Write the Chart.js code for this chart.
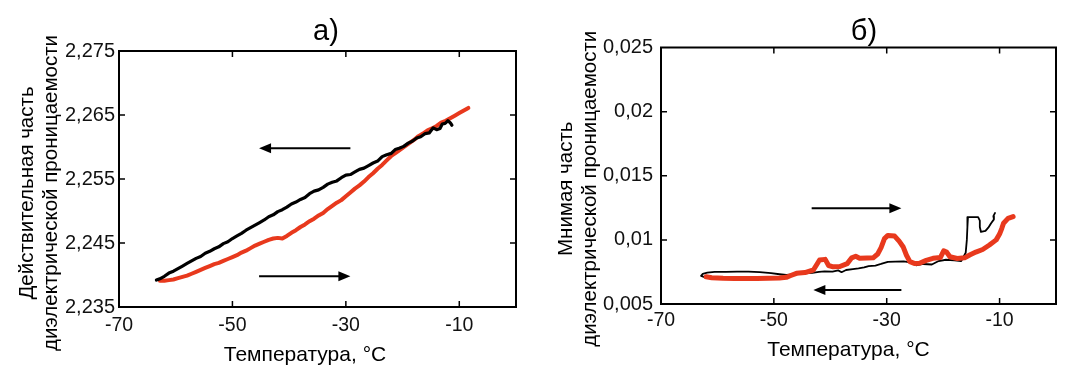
<!DOCTYPE html>
<html>
<head>
<meta charset="utf-8">
<script src="https://cdn.jsdelivr.net/npm/chart.js@4/dist/chart.umd.min.js"></script>
<style>
  body { margin: 0; background: #fff; width: 1075px; height: 378px; overflow: hidden; position: relative; }
  canvas { position: absolute; top: 0; }
  #chartA { left: 0; }
  #chartB { left: 537px; }
</style>
</head>
<body>
<canvas id="chartA" width="537" height="378"></canvas>
<canvas id="chartB" width="538" height="378"></canvas>
<script>
const FONT = "'Liberation Sans', Arial, sans-serif";

// shared x axis
const xTicks = [-70, -50, -30, -10];

// panel а) real part
const yTicksA = [2.235, 2.245, 2.255, 2.265, 2.275];
const coolTempA = [-11.3, -11.6, -12.0, -12.5, -13.0, -13.4, -14.0, -14.6, -15.3, -16.0, -16.8, -17.5, -18.3, -19.0, -19.8,
  -20.6, -21.3, -22.0, -22.8, -23.6, -24.4, -25.2, -26.0, -26.8, -27.6, -28.4, -29.2, -30.0, -30.8, -31.6, -32.4, -33.2,
  -34.0, -34.8, -35.6, -36.4, -37.2, -38.0, -38.8, -39.6, -40.4, -41.2, -42.0, -42.8, -43.6, -44.4, -45.2, -46.0, -46.8,
  -47.6, -48.4, -49.2, -50.0, -50.8, -51.6, -52.4, -53.2, -54.0, -54.8, -55.6, -56.4, -57.2, -58.0, -58.8, -59.6, -60.4,
  -61.2, -62.0, -62.8, -63.4];
const coolEpsA = [2.2634, 2.2638, 2.2641, 2.2637, 2.2636, 2.2629, 2.2627, 2.2630, 2.2622, 2.2621, 2.2616, 2.2614, 2.2609,
  2.2606, 2.2601, 2.2598, 2.2596, 2.2590, 2.2588, 2.2585, 2.2578, 2.2575, 2.2571, 2.2567, 2.2565, 2.2561, 2.2557, 2.2556,
  2.2552, 2.2547, 2.2545, 2.2542, 2.2537, 2.2533, 2.2531, 2.2527, 2.2521, 2.2518, 2.2514, 2.2511, 2.2506, 2.2502, 2.2499,
  2.2494, 2.2491, 2.2486, 2.2482, 2.2478, 2.2474, 2.2470, 2.2465, 2.2461, 2.2457, 2.2452, 2.2449, 2.2444, 2.2441, 2.2437,
  2.2434, 2.2429, 2.2426, 2.2422, 2.2418, 2.2414, 2.2410, 2.2406, 2.2403, 2.2398, 2.2394, 2.2392];
const heatTempA = [-62.8, -62.0, -61.2, -60.4, -59.6, -58.8, -58.0, -57.2, -56.4, -55.6, -54.8, -54.0, -53.2, -52.4, -51.6,
  -50.8, -50.0, -49.2, -48.4, -47.6, -46.8, -46.0, -45.2, -44.4, -43.6, -42.8, -42.0, -41.2, -40.4, -39.6, -38.8, -38.0,
  -37.2, -36.4, -35.6, -34.8, -34.0, -33.2, -32.4, -31.6, -30.8, -30.0, -29.2, -28.4, -27.6, -26.8, -26.0, -25.2, -24.4,
  -23.6, -22.8, -22.0, -21.2, -20.4, -19.6, -18.8, -18.0, -17.2, -16.4, -15.6, -14.8, -14.0, -13.2, -12.4, -11.6, -10.8,
  -10.0, -9.2, -8.4];
const heatEpsA = [2.2391, 2.2391, 2.2392, 2.2393, 2.2395, 2.2397, 2.2399, 2.2402, 2.2405, 2.2408, 2.2411, 2.2414, 2.2417,
  2.2419, 2.2422, 2.2425, 2.2428, 2.2431, 2.2435, 2.2438, 2.2442, 2.2446, 2.2449, 2.2452, 2.2455, 2.2457, 2.2458, 2.2457,
  2.2461, 2.2466, 2.2470, 2.2475, 2.2479, 2.2484, 2.2488, 2.2493, 2.2497, 2.2503, 2.2508, 2.2513, 2.2517, 2.2523, 2.2529,
  2.2535, 2.2540, 2.2546, 2.2553, 2.2559, 2.2566, 2.2572, 2.2579, 2.2586, 2.2591, 2.2596, 2.2601, 2.2606, 2.2611, 2.2617,
  2.2621, 2.2626, 2.2629, 2.2633, 2.2638, 2.2641, 2.2645, 2.2649, 2.2653, 2.2657, 2.2661];

// panel б) imaginary part
const yTicksB = [0.005, 0.01, 0.015, 0.02, 0.025];
const coolTempB = [-10.8, -11.1, -11.0, -11.5, -12.0, -12.5, -13.3, -13.5, -13.5, -13.8, -15.6, -15.7, -15.8, -16.0, -16.8,
  -18.0, -19.5, -20.8, -22.0, -23.5, -24.8, -25.8, -27.0, -28.5, -29.8, -31.0, -32.0, -33.2, -34.0, -35.0, -36.0, -37.2,
  -38.0, -38.6, -39.6, -41.0, -42.0, -43.2, -44.5, -46.0, -47.8, -49.0, -50.5, -52.5, -54.5, -56.5, -58.5, -60.5, -61.8,
  -62.6, -62.9, -62.3, -61.5];
const coolEpsB = [0.01210, 0.01185, 0.01160, 0.01130, 0.01095, 0.01070, 0.01062, 0.01100, 0.01150, 0.01177, 0.01178,
  0.01100, 0.01000, 0.00900, 0.00835, 0.00840, 0.00845, 0.00835, 0.00808, 0.00812, 0.00802, 0.00825, 0.00832, 0.00830,
  0.00828, 0.00812, 0.00800, 0.00795, 0.00785, 0.00778, 0.00772, 0.00765, 0.00748, 0.00762, 0.00752, 0.00755, 0.00750,
  0.00742, 0.00738, 0.00732, 0.00726, 0.00732, 0.00740, 0.00748, 0.00752, 0.00753, 0.00751, 0.00750, 0.00745, 0.00735,
  0.00720, 0.00710, 0.00712];
const heatTempB = [-62.0, -61.0, -59.0, -57.0, -55.0, -53.0, -51.0, -49.0, -47.8, -47.0, -46.0, -44.5, -43.0, -42.5, -41.9,
  -40.9, -40.3, -39.5, -38.3, -37.0, -36.2, -35.5, -34.8, -33.5, -32.4, -31.6, -31.0, -30.4, -29.8, -28.6, -27.8, -27.1,
  -26.5, -25.9, -25.0, -24.2, -23.0, -21.8, -20.5, -19.9, -19.4, -18.8, -17.5, -16.2, -15.3, -14.2, -13.0, -11.8, -10.6,
  -10.0, -9.6, -9.3, -8.5, -7.6];
const heatEpsB = [0.00712, 0.00705, 0.00700, 0.00698, 0.00699, 0.00698, 0.00700, 0.00702, 0.00708, 0.00722, 0.00739,
  0.00745, 0.00765, 0.00800, 0.00843, 0.00848, 0.00800, 0.00790, 0.00792, 0.00815, 0.00860, 0.00872, 0.00856, 0.00858,
  0.00860, 0.00890, 0.00940, 0.01010, 0.01035, 0.01030, 0.00990, 0.00947, 0.00880, 0.00830, 0.00815, 0.00818, 0.00840,
  0.00856, 0.00862, 0.00915, 0.00905, 0.00868, 0.00855, 0.00860, 0.00882, 0.00905, 0.00925, 0.00960, 0.01000, 0.01045,
  0.01090, 0.01130, 0.01168, 0.01182];

// direction arrows, [fromT, fromY, toT, toY]
const arrowsA = [[-29.2, 2.2598, -45.3, 2.2598], [-45.3, 2.2398, -29.2, 2.2398]];
const arrowsB = [[-43.3, 0.01246, -27.4, 0.01246], [-27.4, 0.00609, -43.0, 0.00609]];

const RED = '#e8391d';

function pts(xs, ys) {
  return xs.map((x, i) => ({ x: x, y: ys[i] }));
}

// frame, inner ticks, arrows and texts
const framePlugin = {
  id: 'frame',
  afterDraw(chart, args, o) {
    const { ctx, chartArea: a, scales: { x, y } } = chart;
    ctx.save();
    ctx.strokeStyle = '#000';
    ctx.lineWidth = 2;
    ctx.setLineDash([]);
    ctx.strokeRect(a.left, a.top, a.right - a.left, a.bottom - a.top);

    ctx.lineWidth = 1.5;
    ctx.beginPath();
    x.ticks.forEach(t => {
      const px = x.getPixelForValue(t.value);
      if (px < a.left + 3 || px > a.right - 3) return;
      ctx.moveTo(px, a.bottom); ctx.lineTo(px, a.bottom - 6);
      ctx.moveTo(px, a.top); ctx.lineTo(px, a.top + 6);
    });
    y.ticks.forEach(t => {
      const py = y.getPixelForValue(t.value);
      if (py < a.top + 3 || py > a.bottom - 3) return;
      ctx.moveTo(a.left, py); ctx.lineTo(a.left + 6, py);
      ctx.moveTo(a.right, py); ctx.lineTo(a.right - 6, py);
    });
    ctx.stroke();

    // arrows
    o.arrows.forEach(([t0, v0, t1, v1]) => {
      const x0 = x.getPixelForValue(t0), y0 = y.getPixelForValue(v0);
      const x1 = x.getPixelForValue(t1), y1 = y.getPixelForValue(v1);
      const dir = Math.sign(x1 - x0);
      ctx.strokeStyle = '#000';
      ctx.fillStyle = '#000';
      ctx.lineWidth = 2;
      ctx.beginPath();
      ctx.moveTo(x0, y0);
      ctx.lineTo(x1 - dir * 9, y1);
      ctx.stroke();
      ctx.beginPath();
      ctx.moveTo(x1, y1);
      ctx.lineTo(x1 - dir * 12, y1 - 5);
      ctx.lineTo(x1 - dir * 12, y1 + 5);
      ctx.closePath();
      ctx.fill();
    });

    const cx = (a.left + a.right) / 2;
    const cy = (a.top + a.bottom) / 2;
    ctx.fillStyle = '#000';
    ctx.textAlign = 'center';

    ctx.font = '29px ' + FONT;
    ctx.textBaseline = 'alphabetic';
    ctx.fillText(o.title, cx + o.titleDx, 40);

    ctx.textBaseline = 'middle';
    ctx.font = '21px ' + FONT;
    ctx.fillText(o.xTitle, cx + o.xTitleDx, o.xTitleY);

    ctx.font = '20.5px ' + FONT;
    o.yTitle.forEach((line, i) => {
      ctx.save();
      ctx.translate(o.yTitleX[i], cy + o.yTitleDy);
      ctx.rotate(-Math.PI / 2);
      ctx.fillText(line, 0, 0);
      ctx.restore();
    });
    ctx.restore();
  }
};

function makeChart(id, sets, yTicks, yMin, yMax, lay, frame) {
  return new Chart(document.getElementById(id), {
    type: 'line',
    data: { datasets: sets },
    options: {
      responsive: false,
      devicePixelRatio: 1,
      animation: false,
      events: [],
      layout: { padding: { left: 0, top: lay.top, right: lay.right, bottom: 0 } },
      elements: { point: { radius: 0 }, line: { tension: 0, borderJoinStyle: 'round', borderCapStyle: 'round' } },
      plugins: { legend: { display: false }, tooltip: { enabled: false }, frame: frame },
      scales: {
        x: {
          type: 'linear', min: -70, max: 0,
          grid: { display: false, drawTicks: false },
          border: { display: false },
          afterBuildTicks: s => { s.ticks = xTicks.map(v => ({ value: v })); },
          afterFit: s => { s.height = lay.xh; },
          ticks: {
            autoSkip: false, maxRotation: 0, padding: lay.xpad, color: '#111',
            font: { family: FONT, size: 19.5 },
            callback: v => String(v)
          }
        },
        y: {
          type: 'linear', min: yMin, max: yMax,
          grid: { display: false, drawTicks: false },
          border: { display: false },
          afterBuildTicks: s => { s.ticks = yTicks.map(v => ({ value: v })); },
          afterFit: s => { s.width = lay.yw; },
          ticks: {
            autoSkip: false, padding: lay.ypad, color: '#111',
            font: { family: FONT, size: 20 },
            callback: v => String(v).replace('.', ',')
          }
        }
      }
    },
    plugins: [framePlugin]
  });
}

makeChart('chartA', [
  { data: pts(coolTempA, coolEpsA), borderColor: '#000', borderWidth: 3.2 },
  { data: pts(heatTempA, heatEpsA), borderColor: RED, borderWidth: 4 }
], yTicksA, 2.235, 2.275,
  { top: 51, right: 21, xh: 71, yw: 119, xpad: 7, ypad: 4 },
  {
    title: 'а)', titleDx: 8.5,
    xTitle: 'Температура, °C', xTitleDx: -12.5, xTitleY: 355.5,
    yTitle: ['Действительная часть', 'диэлектрической проницаемости'], yTitleX: [27, 51], yTitleDy: 14,
    arrows: arrowsA
  });

makeChart('chartB', [
  { data: pts(heatTempB, heatEpsB), borderColor: RED, borderWidth: 5 },
  { data: pts(coolTempB, coolEpsB), borderColor: '#000', borderWidth: 1.8 }
], yTicksB, 0.005, 0.025,
  { top: 47.5, right: 19, xh: 74, yw: 124, xpad: 5, ypad: 8 },
  {
    title: 'б)', titleDx: 5.5,
    xTitle: 'Температура, °C', xTitleDx: -10, xTitleY: 350.6,
    yTitle: ['Мнимая часть', 'диэлектрической проницаемости'], yTitleX: [29, 53], yTitleDy: 13,
    arrows: arrowsB
  });
</script>
</body>
</html>
